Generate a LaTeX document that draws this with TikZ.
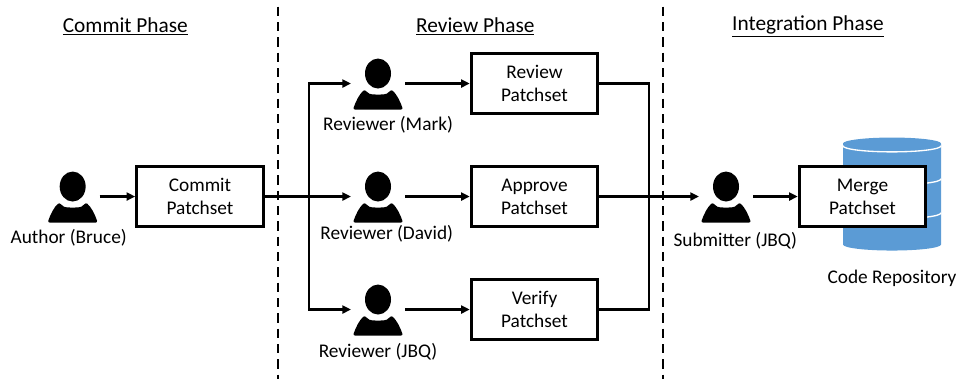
\documentclass[tikz,border=0pt]{standalone}
\usepackage{fontspec}
\setmainfont{Carlito}
\usetikzlibrary{arrows.meta,positioning}
\definecolor{repoblue}{HTML}{5B9BD5}
\tikzset{>/.tip={Triangle[length=6.5pt,width=6pt]}}
\tikzset{patchset/.style={draw,line width=2.2pt,minimum width=95pt,minimum height=45pt,
    inner sep=0pt,align=center,text width=90pt}}
\tikzset{person/.style={minimum width=37.5pt,minimum height=39pt,inner sep=0pt,outer sep=1.5pt,
    path picture={
      \fill[black] (path picture bounding box.center) ++(0,7.5pt) ellipse (9.75pt and 11.25pt);
      \fill[black,rounded corners=1.5pt] (path picture bounding box.center) ++(-18.75pt,-19.5pt)
        .. controls +(2pt,6pt) and +(-4pt,-3pt) .. ++(9pt,15pt)
        .. controls +(2pt,-3pt) and +(-6pt,0pt) .. ++(9.75pt,-3.75pt)
        .. controls +(6pt,0pt) and +(-2pt,-3pt) .. ++(9.75pt,3.75pt)
        .. controls +(4pt,-3pt) and +(-2pt,6pt) .. ++(9pt,-15pt) -- cycle;
    }}}
\tikzset{flow/.style={line width=1.7pt}}
\tikzset{phase/.style={dashed,line width=1.7pt,dash pattern=on 7pt off 4.5pt}}
\tikzset{phasetitle/.style={font=\fontsize{16}{19}\selectfont,inner sep=0pt}}
\begin{document}
\begin{tikzpicture}[on grid,font=\fontsize{14.5}{17}\selectfont]
        \useasboundingbox (0,0) rectangle (717pt,-284.25pt);
        % phases
        \node(commit)[patchset] at (150pt,-147.4pt){Commit\\Patchset};
        \node(author)[person,left=95.5pt of commit]{};
        \node(authorname)[below left=31pt and 3pt of author]{Author (Bruce)};
        \coordinate[right=81.75pt of commit](fork);
        \node(reviewerb)[person,right=133.5pt of commit]{};
        \node(reviewera)[person,above=84.75pt of reviewerb]{};
        \node(reviewerc)[person,below=84.75pt of reviewerb]{};
        \node(markname)[below right=31pt and 7.5pt of reviewera]{Reviewer (Mark)};
        \node(davidname)[below right=28pt and 6.5pt of reviewerb]{Reviewer (David)};
        \node(jbqname)[below=31.5pt of reviewerc]{Reviewer (JBQ)};
        \node(approve)[patchset,right=117.4pt of reviewerb]{Approve\\Patchset};
        \node(review)[patchset,right=117.4pt of reviewera]{Review\\Patchset};
        \node(verify)[patchset,right=117.4pt of reviewerc]{Verify\\Patchset};
        \coordinate[right=85.9pt of approve](join);
        \node(submitter)[person,right=143.6pt of approve]{};
        \node(submittername)[below right=33pt and 7pt of submitter]{Submitter (JBQ)};
        \coordinate[right=124.5pt of submitter](repo);
        % the repository goes behind the merge box
        \begin{scope}[shift={(repo)},yshift=3pt]
          \fill[repoblue] (-36.75pt,36.75pt) arc[start angle=180,end angle=0,x radius=36.75pt,y radius=4.5pt]
            -- (36.75pt,-39pt) arc[start angle=0,end angle=-180,x radius=36.75pt,y radius=4.5pt] -- cycle;
          \draw[white,line width=1pt] (-36.75pt,35pt) arc[start angle=180,end angle=360,x radius=36.75pt,y radius=4.5pt];
          \draw[white,line width=1pt] (-36.75pt,10.25pt) arc[start angle=180,end angle=360,x radius=36.75pt,y radius=4.5pt];
          \draw[white,line width=1pt] (-36.75pt,-15.25pt) arc[start angle=180,end angle=360,x radius=36.75pt,y radius=4.5pt];
        \end{scope}
        \node(merge)[patchset,fill=white,right=102.4pt of submitter]{Merge\\Patchset};
        \node(reponame)[below=51.5pt of repo]{Code Repository};
        \coordinate(dashatop) at (208.5pt,-5pt);
        \coordinate(dashabot) at (208.5pt,-284.25pt);
        \coordinate(dashbtop) at (497.25pt,-5pt);
        \coordinate(dashbbot) at (497.25pt,-284.25pt);
        \draw[phase] (dashatop) -- (dashabot);
        \draw[phase] (dashbtop) -- (dashbbot);
        \node(committitle)[phasetitle] at (94pt,-19.8pt){\underline{Commit Phase}};
        \node(reviewtitle)[phasetitle] at (356.5pt,-19.8pt){\underline{Review Phase}};
        \node(integrationtitle)[phasetitle] at (606pt,-19.8pt){\underline{Integration Phase}};
        \draw[flow,->] (author) -- (commit);
        \draw[flow,->] (commit) -- (reviewerb);
        \draw[flow,->] (fork) |- (reviewera);
        \draw[flow,->] (fork) |- (reviewerc);
        \draw[flow,->] (reviewera) -- (review);
        \draw[flow,->] (reviewerb) -- (approve);
        \draw[flow,->] (reviewerc) -- (verify);
        \draw[flow] (review) -| (join);
        \draw[flow] (verify) -| (join);
        \draw[flow,->] (approve) -- (submitter);
        \draw[flow,->] (submitter) -- (merge);
      \end{tikzpicture}
\end{document}
